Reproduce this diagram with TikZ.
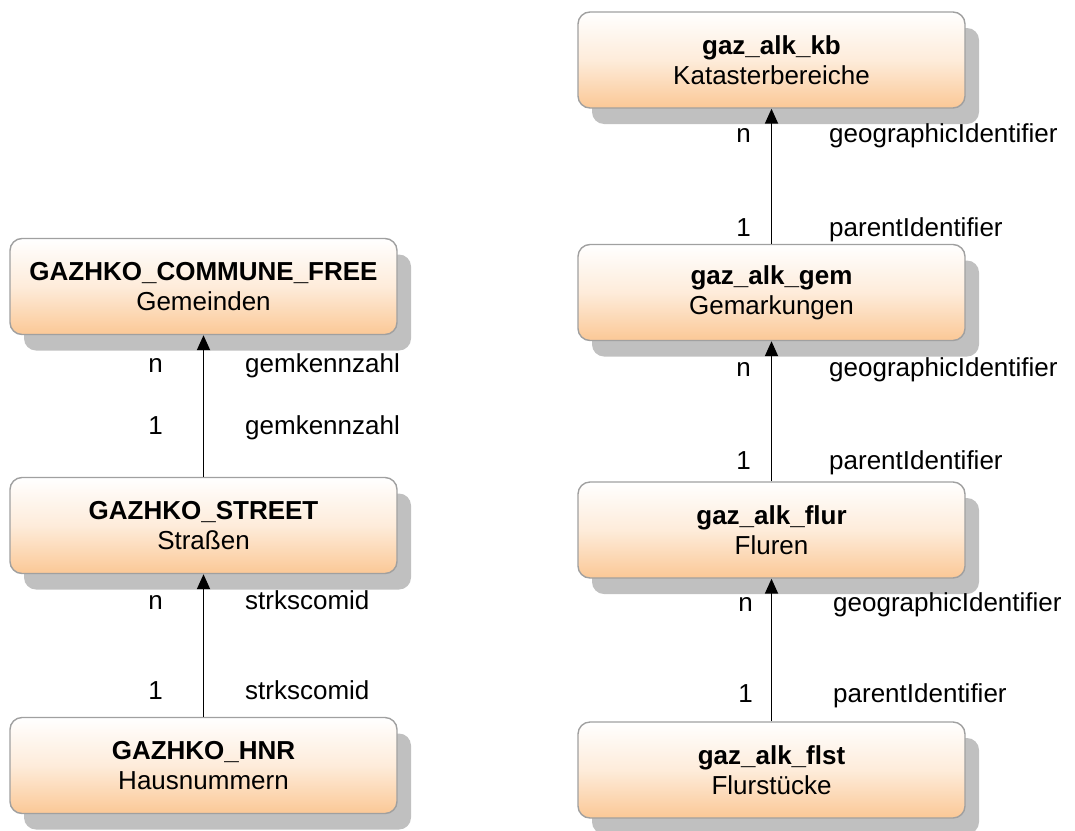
\documentclass[tikz,border=0pt]{standalone}
\usepackage{fontspec}
\setmainfont{Liberation Sans}
\usetikzlibrary{shadows,arrows.meta}
\definecolor{obox}{RGB}{251,200,150}
\definecolor{oborder}{RGB}{160,160,160}
\definecolor{oshadow}{RGB}{192,192,192}
\tikzset{
  entity/.style={draw=oborder, line width=1.4pt, rounded corners=12pt,
    minimum width=387pt, minimum height=96pt, align=center,
    top color=white, bottom color=obox, middle color=obox!35!white,
    font=\fontsize{26}{30}\selectfont,
    drop shadow={shadow xshift=14pt, shadow yshift=-16pt, fill=oshadow, opacity=1}},
  rel/.style={line width=1.8pt, -{Triangle[length=15pt,width=13pt]}},
  card/.style={anchor=base east, inner sep=0pt, font=\fontsize{26}{30}\selectfont},
  attr/.style={anchor=base west, inner sep=0pt, font=\fontsize{26}{30}\selectfont}
}
\begin{document}
\begin{tikzpicture}[x=1pt,y=-1pt]
\useasboundingbox (0,0) rectangle (1075,830);
% left column
\node[entity] (commune) at (203.5,286.5) {\textbf{GAZHKO\_COMMUNE\_FREE}\\Gemeinden};
\node[entity] (street) at (203.5,525.5) {\textbf{GAZHKO\_STREET}\\Straßen};
\node[entity] (hnr) at (203.5,765.5) {\textbf{GAZHKO\_HNR}\\Hausnummern};
% right column
\node[entity] (kb) at (771.5,60) {\textbf{gaz\_alk\_kb}\\Katasterbereiche};
\node[entity] (gem) at (771.5,292.5) {\textbf{gaz\_alk\_gem}\\Gemarkungen};
\node[entity] (flur) at (771.5,530) {\textbf{gaz\_alk\_flur}\\Fluren};
\node[entity] (flst) at (771.5,770) {\textbf{gaz\_alk\_flst}\\Flurstücke};
% connectors
\draw[rel] (street.north) -- (commune.south);
\draw[rel] (hnr.north) -- (street.south);
\draw[rel] (gem.north) -- (kb.south);
\draw[rel] (flur.north) -- (gem.south);
\draw[rel] (flst.north) -- (flur.south);
% labels left
\node[card] (c1) at (163,372) {n};
\node[attr] (a1) at (245,372) {gemkennzahl};
\node[card] (c2) at (163,434) {1};
\node[attr] (a2) at (245,434) {gemkennzahl};
\node[card] (c3) at (163,609) {n};
\node[attr] (a3) at (245,609) {strkscomid};
\node[card] (c4) at (163,699) {1};
\node[attr] (a4) at (245,699) {strkscomid};
% labels right
\node[card] (c5) at (751,142) {n};
\node[attr] (a5) at (829,142) {geographicIdentifier};
\node[card] (c6) at (751,236) {1};
\node[attr] (a6) at (829,236) {parentIdentifier};
\node[card] (c7) at (751,376) {n};
\node[attr] (a7) at (829,376) {geographicIdentifier};
\node[card] (c8) at (751,469) {1};
\node[attr] (a8) at (829,469) {parentIdentifier};
\node[card] (c9) at (753,611) {n};
\node[attr] (a9) at (833,611) {geographicIdentifier};
\node[card] (c10) at (753,702) {1};
\node[attr] (a10) at (833,702) {parentIdentifier};
\end{tikzpicture}
\end{document}
